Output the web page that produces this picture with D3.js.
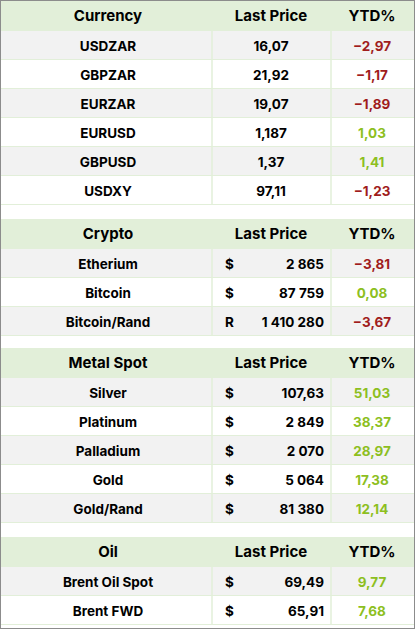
<!DOCTYPE html>
<html><head><meta charset="utf-8">
<script src="https://cdn.jsdelivr.net/npm/d3@7"></script>
<style>body{margin:0;background:#fff}text{font-family:Inter,"Open Sans",sans-serif;font-weight:700}</style>
</head><body><div id="chart"></div>
<script>
const currencyNames = ["USDZAR","GBPZAR","EURZAR","EURUSD","GBPUSD","USDXY"]
const currencyPrices = ["16,07","21,92","19,07","1,187","1,37","97,11"]
const currencyYtd = [-2.97,-1.17,-1.89,1.03,1.41,-1.23]

const cryptoNames = ["Etherium","Bitcoin","Bitcoin/Rand"]
const cryptoUnits = ["$","$","R"]
const cryptoPrices = ["2 865","87 759","1 410 280"]
const cryptoYtd = [-3.81,0.08,-3.67]

const metalNames = ["Silver","Platinum","Palladium","Gold","Gold/Rand"]
const metalUnits = ["$","$","$","$","$"]
const metalPrices = ["107,63","2 849","2 070","5 064","81 380"]
const metalYtd = [51.03,38.37,28.97,17.38,12.14]

const oilNames = ["Brent Oil Spot","Brent FWD"]
const oilUnits = ["$","$"]
const oilPrices = ["69,49","65,91"]
const oilYtd = [9.77,7.68]

const sections = [
  {title:"Currency", names:currencyNames, units:null, prices:currencyPrices, ytd:currencyYtd, top:1},
  {title:"Crypto", names:cryptoNames, units:cryptoUnits, prices:cryptoPrices, ytd:cryptoYtd, top:219},
  {title:"Metal Spot", names:metalNames, units:metalUnits, prices:metalPrices, ytd:metalYtd, top:348},
  {title:"Oil", names:oilNames, units:oilUnits, prices:oilPrices, ytd:oilYtd, top:537}
]

const W = 415, H = 629, headH = 30, rowH = 29
const fmt = v => v.toFixed(2).replace(".", ",").replace("-", "\u2212")
const col1 = 212, col2 = 331

const svg = d3.select("#chart").append("svg").attr("width", W).attr("height", H)
svg.append("rect").attr("x",0.5).attr("y",0.5).attr("width",W-1).attr("height",H-1)
  .attr("fill","#fff").attr("stroke","#8c8c8c")

sections.forEach(s => {
  const g = svg.append("g").attr("transform", `translate(0,${s.top})`)
  g.append("rect").attr("x",1).attr("width",W-2).attr("height",headH).attr("fill","#e2efd9")
  const hy = headH/2 + 5
  g.append("text").attr("x",108).attr("y",hy).attr("text-anchor","middle").attr("font-size",15).text(s.title)
  g.append("text").attr("x",271).attr("y",hy).attr("text-anchor","middle").attr("font-size",15).text("Last Price")
  g.append("text").attr("x",372).attr("y",hy).attr("text-anchor","middle").attr("font-size",15).text("YTD%")

  const y = d3.scaleBand().domain(d3.range(s.names.length))
    .range([headH, headH + rowH*s.names.length])
  const rows = g.selectAll("g.row").data(s.names).enter().append("g")
    .attr("transform", (d,i) => `translate(0,${y(i)})`)
  rows.append("rect").attr("x",1).attr("width",W-2).attr("height",y.bandwidth())
    .attr("fill",(d,i) => i%2===0 ? "#f2f2f2" : "#fff")
  rows.append("line").attr("x1",1).attr("x2",W-1).attr("y1",y.bandwidth()-0.5).attr("y2",y.bandwidth()-0.5)
    .attr("stroke","#e2efd9")
  ;[col1,col2].forEach(cx => rows.append("line").attr("x1",cx).attr("x2",cx).attr("y1",0).attr("y2",y.bandwidth())
    .attr("stroke","#e2efd9").attr("stroke-width",1.5))
  const ty = y.bandwidth()/2 + 5
  rows.append("text").attr("x",108).attr("y",ty).attr("text-anchor","middle").attr("font-size",13.5).text(d=>d)
  if (s.units) {
    rows.append("text").attr("x",225).attr("y",ty).attr("font-size",13.5).text((d,i)=>s.units[i])
    rows.append("text").attr("x",324).attr("y",ty).attr("text-anchor","end").attr("font-size",13.5).text((d,i)=>s.prices[i])
  } else {
    rows.append("text").attr("x",271).attr("y",ty).attr("text-anchor","middle").attr("font-size",13.5).text((d,i)=>s.prices[i])
  }
  rows.append("text").attr("x",372).attr("y",ty).attr("text-anchor","middle").attr("font-size",13.5)
    .attr("fill",(d,i)=> s.ytd[i] < 0 ? "#a01c1c" : "#8dbf1f").text((d,i)=>fmt(s.ytd[i]))
})
</script></body></html>
